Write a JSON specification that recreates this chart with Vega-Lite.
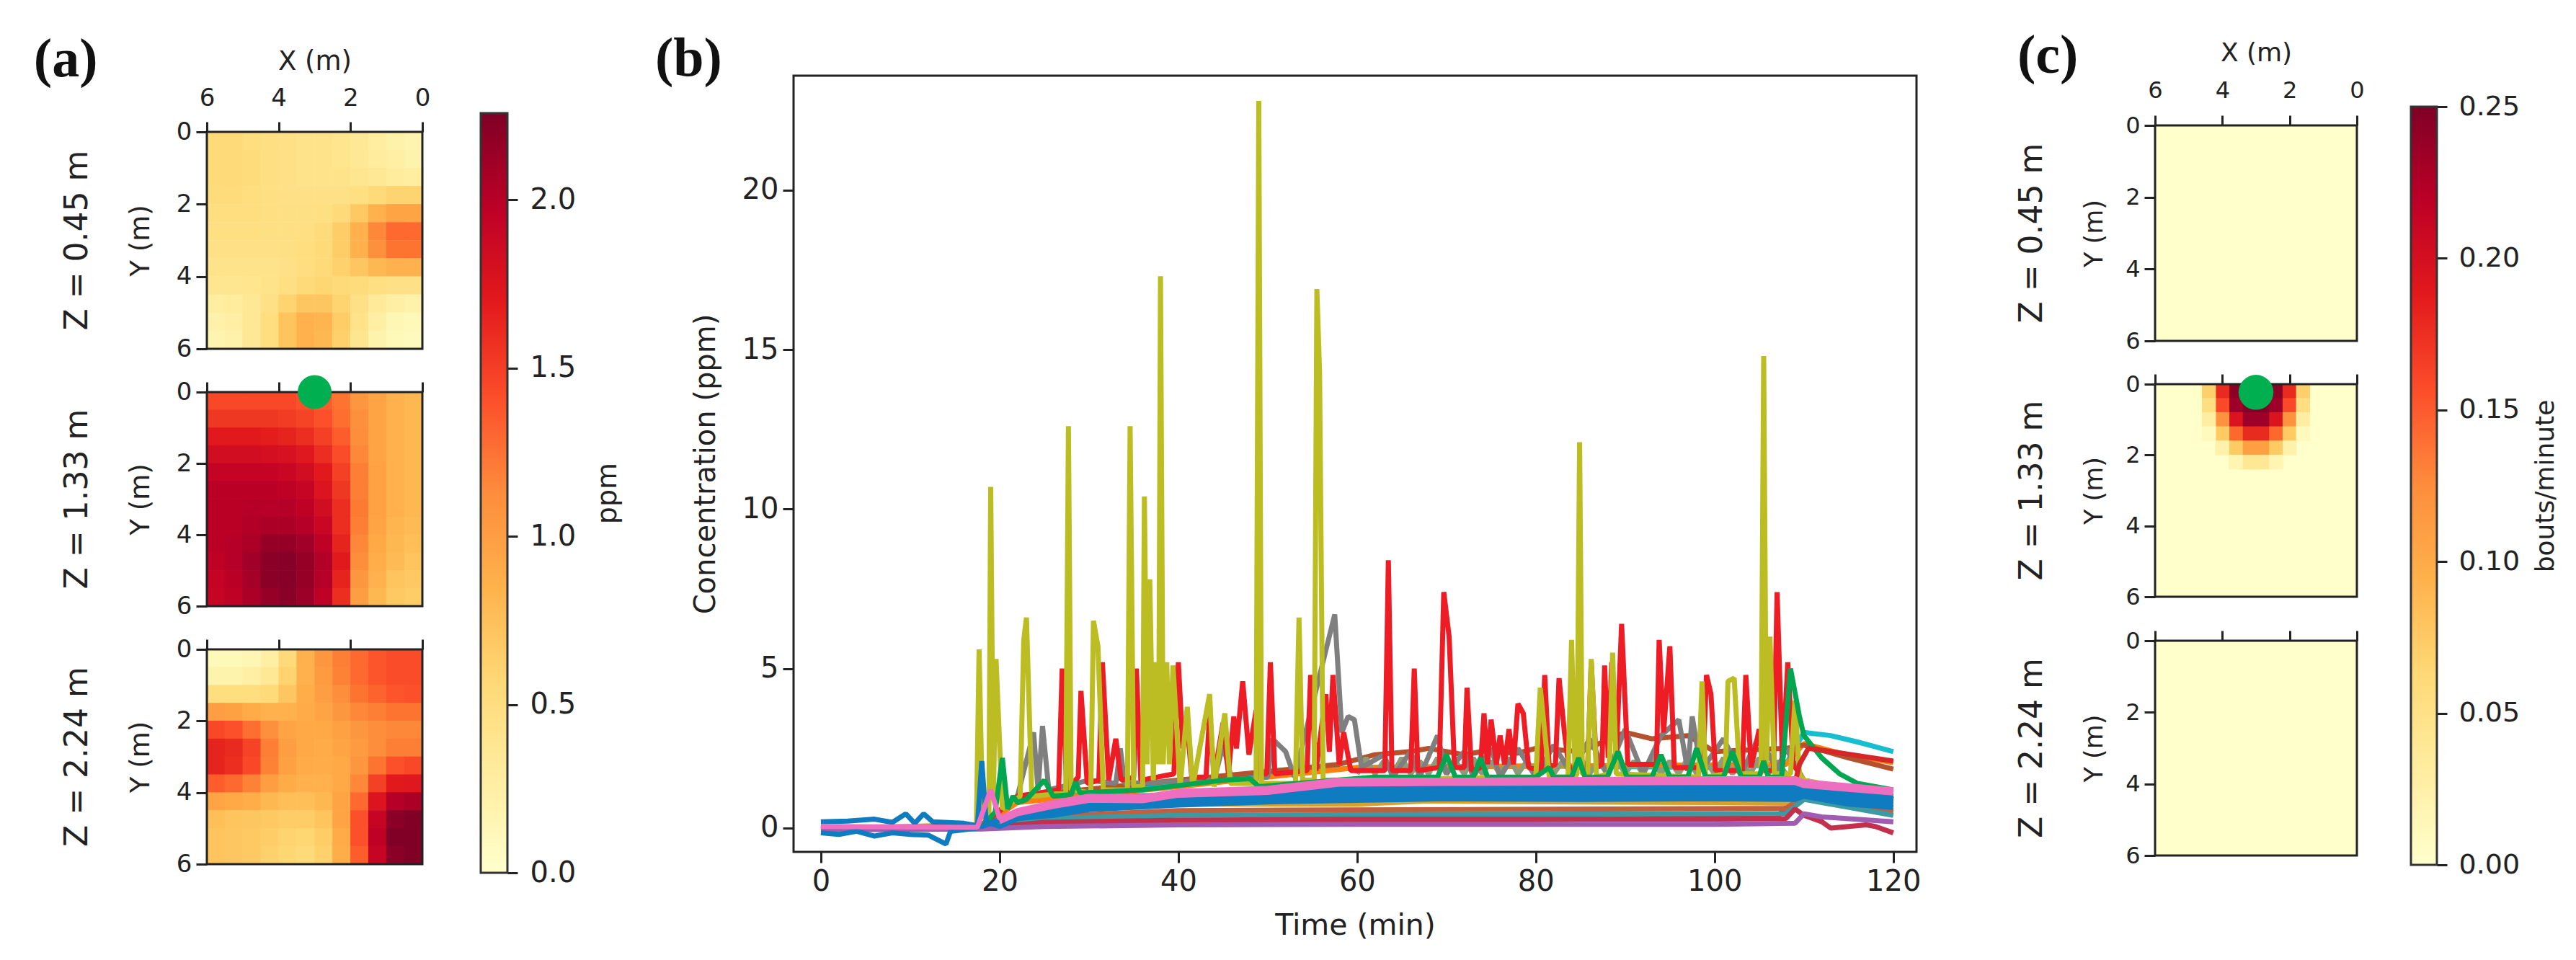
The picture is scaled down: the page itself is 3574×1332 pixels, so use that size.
{"$schema":"https://vega.github.io/schema/vega-lite/v6.json","width":3574,"height":1332,"padding":0,"autosize":{"type":"fit","contains":"padding"},"background":"white","config":{"view":{"stroke":null},"axis":{"grid":false,"labelFont":"DejaVu Sans","titleFont":"DejaVu Sans","labelColor":"#222","titleColor":"#222","tickColor":"#222","tickWidth":3,"domain":false,"titleFontWeight":"normal","labelOverlap":false,"labelBound":false,"labelFlush":false}},"resolve":{"scale":{"x":"independent","y":"independent","color":"independent"},"axis":{"x":"independent","y":"independent"}},"layer":[
{"layer":[
{"mark":{"type":"rect","width":25.5,"height":25.5},"data":{"values":[
{"x":5.75,"y":0.25,"v":0.55},{"x":5.25,"y":0.25,"v":0.55},{"x":4.75,"y":0.25,"v":0.5},{"x":4.25,"y":0.25,"v":0.48},{"x":3.75,"y":0.25,"v":0.45},{"x":3.25,"y":0.25,"v":0.42},{"x":2.75,"y":0.25,"v":0.42},{"x":2.25,"y":0.25,"v":0.4},{"x":1.75,"y":0.25,"v":0.35},{"x":1.25,"y":0.25,"v":0.28},{"x":0.75,"y":0.25,"v":0.22},{"x":0.25,"y":0.25,"v":0.18},
{"x":5.75,"y":0.75,"v":0.55},{"x":5.25,"y":0.75,"v":0.55},{"x":4.75,"y":0.75,"v":0.52},{"x":4.25,"y":0.75,"v":0.48},{"x":3.75,"y":0.75,"v":0.45},{"x":3.25,"y":0.75,"v":0.42},{"x":2.75,"y":0.75,"v":0.42},{"x":2.25,"y":0.75,"v":0.4},{"x":1.75,"y":0.75,"v":0.35},{"x":1.25,"y":0.75,"v":0.3},{"x":0.75,"y":0.75,"v":0.25},{"x":0.25,"y":0.75,"v":0.2},
{"x":5.75,"y":1.25,"v":0.55},{"x":5.25,"y":1.25,"v":0.55},{"x":4.75,"y":1.25,"v":0.52},{"x":4.25,"y":1.25,"v":0.48},{"x":3.75,"y":1.25,"v":0.45},{"x":3.25,"y":1.25,"v":0.42},{"x":2.75,"y":1.25,"v":0.42},{"x":2.25,"y":1.25,"v":0.42},{"x":1.75,"y":1.25,"v":0.38},{"x":1.25,"y":1.25,"v":0.35},{"x":0.75,"y":1.25,"v":0.3},{"x":0.25,"y":1.25,"v":0.28},
{"x":5.75,"y":1.75,"v":0.52},{"x":5.25,"y":1.75,"v":0.52},{"x":4.75,"y":1.75,"v":0.5},{"x":4.25,"y":1.75,"v":0.48},{"x":3.75,"y":1.75,"v":0.45},{"x":3.25,"y":1.75,"v":0.45},{"x":2.75,"y":1.75,"v":0.45},{"x":2.25,"y":1.75,"v":0.45},{"x":1.75,"y":1.75,"v":0.48},{"x":1.25,"y":1.75,"v":0.55},{"x":0.75,"y":1.75,"v":0.6},{"x":0.25,"y":1.75,"v":0.6},
{"x":5.75,"y":2.25,"v":0.5},{"x":5.25,"y":2.25,"v":0.5},{"x":4.75,"y":2.25,"v":0.5},{"x":4.25,"y":2.25,"v":0.48},{"x":3.75,"y":2.25,"v":0.47},{"x":3.25,"y":2.25,"v":0.47},{"x":2.75,"y":2.25,"v":0.48},{"x":2.25,"y":2.25,"v":0.55},{"x":1.75,"y":2.25,"v":0.68},{"x":1.25,"y":2.25,"v":0.85},{"x":0.75,"y":2.25,"v":0.95},{"x":0.25,"y":2.25,"v":0.95},
{"x":5.75,"y":2.75,"v":0.48},{"x":5.25,"y":2.75,"v":0.48},{"x":4.75,"y":2.75,"v":0.48},{"x":4.25,"y":2.75,"v":0.47},{"x":3.75,"y":2.75,"v":0.47},{"x":3.25,"y":2.75,"v":0.48},{"x":2.75,"y":2.75,"v":0.52},{"x":2.25,"y":2.75,"v":0.65},{"x":1.75,"y":2.75,"v":0.85},{"x":1.25,"y":2.75,"v":1.15},{"x":0.75,"y":2.75,"v":1.3},{"x":0.25,"y":2.75,"v":1.3},
{"x":5.75,"y":3.25,"v":0.45},{"x":5.25,"y":3.25,"v":0.45},{"x":4.75,"y":3.25,"v":0.45},{"x":4.25,"y":3.25,"v":0.45},{"x":3.75,"y":3.25,"v":0.47},{"x":3.25,"y":3.25,"v":0.5},{"x":2.75,"y":3.25,"v":0.55},{"x":2.25,"y":3.25,"v":0.65},{"x":1.75,"y":3.25,"v":0.85},{"x":1.25,"y":3.25,"v":1.1},{"x":0.75,"y":3.25,"v":1.25},{"x":0.25,"y":3.25,"v":1.25},
{"x":5.75,"y":3.75,"v":0.42},{"x":5.25,"y":3.75,"v":0.42},{"x":4.75,"y":3.75,"v":0.42},{"x":4.25,"y":3.75,"v":0.42},{"x":3.75,"y":3.75,"v":0.45},{"x":3.25,"y":3.75,"v":0.5},{"x":2.75,"y":3.75,"v":0.55},{"x":2.25,"y":3.75,"v":0.62},{"x":1.75,"y":3.75,"v":0.7},{"x":1.25,"y":3.75,"v":0.8},{"x":0.75,"y":3.75,"v":0.85},{"x":0.25,"y":3.75,"v":0.85},
{"x":5.75,"y":4.25,"v":0.38},{"x":5.25,"y":4.25,"v":0.38},{"x":4.75,"y":4.25,"v":0.4},{"x":4.25,"y":4.25,"v":0.42},{"x":3.75,"y":4.25,"v":0.48},{"x":3.25,"y":4.25,"v":0.55},{"x":2.75,"y":4.25,"v":0.58},{"x":2.25,"y":4.25,"v":0.55},{"x":1.75,"y":4.25,"v":0.52},{"x":1.25,"y":4.25,"v":0.48},{"x":0.75,"y":4.25,"v":0.45},{"x":0.25,"y":4.25,"v":0.45},
{"x":5.75,"y":4.75,"v":0.28},{"x":5.25,"y":4.75,"v":0.3},{"x":4.75,"y":4.75,"v":0.35},{"x":4.25,"y":4.75,"v":0.45},{"x":3.75,"y":4.75,"v":0.6},{"x":3.25,"y":4.75,"v":0.7},{"x":2.75,"y":4.75,"v":0.7},{"x":2.25,"y":4.75,"v":0.6},{"x":1.75,"y":4.75,"v":0.45},{"x":1.25,"y":4.75,"v":0.32},{"x":0.75,"y":4.75,"v":0.25},{"x":0.25,"y":4.75,"v":0.22},
{"x":5.75,"y":5.25,"v":0.22},{"x":5.25,"y":5.25,"v":0.25},{"x":4.75,"y":5.25,"v":0.35},{"x":4.25,"y":5.25,"v":0.5},{"x":3.75,"y":5.25,"v":0.72},{"x":3.25,"y":5.25,"v":0.85},{"x":2.75,"y":5.25,"v":0.82},{"x":2.25,"y":5.25,"v":0.65},{"x":1.75,"y":5.25,"v":0.42},{"x":1.25,"y":5.25,"v":0.25},{"x":0.75,"y":5.25,"v":0.15},{"x":0.25,"y":5.25,"v":0.12},
{"x":5.75,"y":5.75,"v":0.18},{"x":5.25,"y":5.75,"v":0.22},{"x":4.75,"y":5.75,"v":0.35},{"x":4.25,"y":5.75,"v":0.5},{"x":3.75,"y":5.75,"v":0.72},{"x":3.25,"y":5.75,"v":0.85},{"x":2.75,"y":5.75,"v":0.8},{"x":2.25,"y":5.75,"v":0.62},{"x":1.75,"y":5.75,"v":0.38},{"x":1.25,"y":5.75,"v":0.2},{"x":0.75,"y":5.75,"v":0.12},{"x":0.25,"y":5.75,"v":0.1}
]},"encoding":{"x":{"field":"x","type":"quantitative","axis":null,"scale":{"domain":[6,0],"range":[287,586],"nice":false,"zero":false}},"y":{"field":"y","type":"quantitative","axis":null,"scale":{"domain":[0,6],"range":[183,484],"nice":false,"zero":false}},"color":{"field":"v","type":"quantitative","legend":null,"scale":{"domain":[0,0.28125,0.5625,0.84375,1.125,1.40625,1.6875,1.96875,2.25],"range":["#ffffcc","#ffeda0","#fed976","#feb24c","#fd8d3c","#fc4e2a","#e31a1c","#bd0026","#800026"]}}}},
{"mark":{"type":"text","font":"DejaVu Sans","fontSize":44,"angle":270,"color":"#222"},"data":{"values":[{"x":9.59,"y":3,"t":"Z = 0.45 m"}]},"encoding":{"x":{"field":"x","type":"quantitative","axis":null},"y":{"field":"y","type":"quantitative","axis":null},"text":{"field":"t"}}},
{"mark":{"type":"text","font":"Liberation Serif","fontWeight":"bold","fontSize":76,"color":"#111"},"data":{"values":[{"x":9.93,"y":-1.99,"t":"(a)"}]},"encoding":{"x":{"field":"x","type":"quantitative","axis":null},"y":{"field":"y","type":"quantitative","axis":null},"text":{"field":"t"}}}
]},
{"mark":{"type":"rect","filled":false,"stroke":"#222","strokeWidth":3},"data":{"values":[{"a":6,"b":0,"c":0,"d":6}]},"encoding":{"x":{"field":"a","type":"quantitative","scale":{"domain":[6,0],"range":[287,586],"nice":false,"zero":false},"axis":{"orient":"top","offset":-183,"values":[6,4,2,0],"tickSize":14,"labelFontSize":34,"labelPadding":16,"labelAngle":0,"title":"X (m)","titleFontSize":37,"titlePadding":15}},"x2":{"field":"b"},"y":{"field":"c","type":"quantitative","scale":{"domain":[0,6],"range":[183,484],"nice":false,"zero":false},"axis":{"orient":"left","offset":-287,"values":[0,2,4,6],"tickSize":15,"labelFontSize":34,"labelPadding":6,"title":"Y (m)","titleFontSize":37,"titlePadding":30}},"y2":{"field":"d"}}},
{"layer":[
{"mark":{"type":"rect","width":25.5,"height":25.5},"data":{"values":[
{"x":5.75,"y":0.25,"v":1.45},{"x":5.25,"y":0.25,"v":1.45},{"x":4.75,"y":0.25,"v":1.45},{"x":4.25,"y":0.25,"v":1.45},{"x":3.75,"y":0.25,"v":1.45},{"x":3.25,"y":0.25,"v":1.4},{"x":2.75,"y":0.25,"v":1.35},{"x":2.25,"y":0.25,"v":1.25},{"x":1.75,"y":0.25,"v":1.05},{"x":1.25,"y":0.25,"v":0.95},{"x":0.75,"y":0.25,"v":0.85},{"x":0.25,"y":0.25,"v":0.8},
{"x":5.75,"y":0.75,"v":1.55},{"x":5.25,"y":0.75,"v":1.55},{"x":4.75,"y":0.75,"v":1.55},{"x":4.25,"y":0.75,"v":1.55},{"x":3.75,"y":0.75,"v":1.52},{"x":3.25,"y":0.75,"v":1.48},{"x":2.75,"y":0.75,"v":1.4},{"x":2.25,"y":0.75,"v":1.28},{"x":1.75,"y":0.75,"v":1.1},{"x":1.25,"y":0.75,"v":0.95},{"x":0.75,"y":0.75,"v":0.85},{"x":0.25,"y":0.75,"v":0.8},
{"x":5.75,"y":1.25,"v":1.7},{"x":5.25,"y":1.25,"v":1.7},{"x":4.75,"y":1.25,"v":1.7},{"x":4.25,"y":1.25,"v":1.68},{"x":3.75,"y":1.25,"v":1.65},{"x":3.25,"y":1.25,"v":1.6},{"x":2.75,"y":1.25,"v":1.5},{"x":2.25,"y":1.25,"v":1.35},{"x":1.75,"y":1.25,"v":1.12},{"x":1.25,"y":1.25,"v":0.95},{"x":0.75,"y":1.25,"v":0.85},{"x":0.25,"y":1.25,"v":0.8},
{"x":5.75,"y":1.75,"v":1.82},{"x":5.25,"y":1.75,"v":1.82},{"x":4.75,"y":1.75,"v":1.82},{"x":4.25,"y":1.75,"v":1.8},{"x":3.75,"y":1.75,"v":1.78},{"x":3.25,"y":1.75,"v":1.72},{"x":2.75,"y":1.75,"v":1.6},{"x":2.25,"y":1.75,"v":1.42},{"x":1.75,"y":1.75,"v":1.15},{"x":1.25,"y":1.75,"v":0.95},{"x":0.75,"y":1.75,"v":0.85},{"x":0.25,"y":1.75,"v":0.8},
{"x":5.75,"y":2.25,"v":1.92},{"x":5.25,"y":2.25,"v":1.92},{"x":4.75,"y":2.25,"v":1.92},{"x":4.25,"y":2.25,"v":1.92},{"x":3.75,"y":2.25,"v":1.88},{"x":3.25,"y":2.25,"v":1.82},{"x":2.75,"y":2.25,"v":1.7},{"x":2.25,"y":2.25,"v":1.5},{"x":1.75,"y":2.25,"v":1.2},{"x":1.25,"y":2.25,"v":0.97},{"x":0.75,"y":2.25,"v":0.85},{"x":0.25,"y":2.25,"v":0.8},
{"x":5.75,"y":2.75,"v":1.98},{"x":5.25,"y":2.75,"v":1.98},{"x":4.75,"y":2.75,"v":1.98},{"x":4.25,"y":2.75,"v":1.98},{"x":3.75,"y":2.75,"v":1.95},{"x":3.25,"y":2.75,"v":1.9},{"x":2.75,"y":2.75,"v":1.75},{"x":2.25,"y":2.75,"v":1.55},{"x":1.75,"y":2.75,"v":1.2},{"x":1.25,"y":2.75,"v":0.97},{"x":0.75,"y":2.75,"v":0.85},{"x":0.25,"y":2.75,"v":0.8},
{"x":5.75,"y":3.25,"v":1.98},{"x":5.25,"y":3.25,"v":1.98},{"x":4.75,"y":3.25,"v":2.0},{"x":4.25,"y":3.25,"v":2.0},{"x":3.75,"y":3.25,"v":2.0},{"x":3.25,"y":3.25,"v":1.95},{"x":2.75,"y":3.25,"v":1.82},{"x":2.25,"y":3.25,"v":1.6},{"x":1.75,"y":3.25,"v":1.22},{"x":1.25,"y":3.25,"v":0.97},{"x":0.75,"y":3.25,"v":0.85},{"x":0.25,"y":3.25,"v":0.8},
{"x":5.75,"y":3.75,"v":1.98},{"x":5.25,"y":3.75,"v":1.98},{"x":4.75,"y":3.75,"v":2.02},{"x":4.25,"y":3.75,"v":2.05},{"x":3.75,"y":3.75,"v":2.05},{"x":3.25,"y":3.75,"v":2.0},{"x":2.75,"y":3.75,"v":1.88},{"x":2.25,"y":3.75,"v":1.6},{"x":1.75,"y":3.75,"v":1.2},{"x":1.25,"y":3.75,"v":0.95},{"x":0.75,"y":3.75,"v":0.82},{"x":0.25,"y":3.75,"v":0.78},
{"x":5.75,"y":4.25,"v":1.98},{"x":5.25,"y":4.25,"v":2.0},{"x":4.75,"y":4.25,"v":2.05},{"x":4.25,"y":4.25,"v":2.15},{"x":3.75,"y":4.25,"v":2.15},{"x":3.25,"y":4.25,"v":2.1},{"x":2.75,"y":4.25,"v":1.95},{"x":2.25,"y":4.25,"v":1.65},{"x":1.75,"y":4.25,"v":1.15},{"x":1.25,"y":4.25,"v":0.92},{"x":0.75,"y":4.25,"v":0.8},{"x":0.25,"y":4.25,"v":0.75},
{"x":5.75,"y":4.75,"v":1.95},{"x":5.25,"y":4.75,"v":2.0},{"x":4.75,"y":4.75,"v":2.1},{"x":4.25,"y":4.75,"v":2.2},{"x":3.75,"y":4.75,"v":2.22},{"x":3.25,"y":4.75,"v":2.15},{"x":2.75,"y":4.75,"v":2.02},{"x":2.25,"y":4.75,"v":1.7},{"x":1.75,"y":4.75,"v":1.12},{"x":1.25,"y":4.75,"v":0.88},{"x":0.75,"y":4.75,"v":0.78},{"x":0.25,"y":4.75,"v":0.72},
{"x":5.75,"y":5.25,"v":1.92},{"x":5.25,"y":5.25,"v":1.98},{"x":4.75,"y":5.25,"v":2.08},{"x":4.25,"y":5.25,"v":2.2},{"x":3.75,"y":5.25,"v":2.22},{"x":3.25,"y":5.25,"v":2.15},{"x":2.75,"y":5.25,"v":2.0},{"x":2.25,"y":5.25,"v":1.65},{"x":1.75,"y":5.25,"v":1.05},{"x":1.25,"y":5.25,"v":0.85},{"x":0.75,"y":5.25,"v":0.72},{"x":0.25,"y":5.25,"v":0.68},
{"x":5.75,"y":5.75,"v":1.9},{"x":5.25,"y":5.75,"v":1.95},{"x":4.75,"y":5.75,"v":2.05},{"x":4.25,"y":5.75,"v":2.15},{"x":3.75,"y":5.75,"v":2.2},{"x":3.25,"y":5.75,"v":2.12},{"x":2.75,"y":5.75,"v":1.95},{"x":2.25,"y":5.75,"v":1.6},{"x":1.75,"y":5.75,"v":1.0},{"x":1.25,"y":5.75,"v":0.8},{"x":0.75,"y":5.75,"v":0.68},{"x":0.25,"y":5.75,"v":0.65}
]},"encoding":{"x":{"field":"x","type":"quantitative","axis":null,"scale":{"domain":[6,0],"range":[287,586],"nice":false,"zero":false}},"y":{"field":"y","type":"quantitative","axis":null,"scale":{"domain":[0,6],"range":[544,841],"nice":false,"zero":false}},"color":{"field":"v","type":"quantitative","legend":null,"scale":{"domain":[0,0.28125,0.5625,0.84375,1.125,1.40625,1.6875,1.96875,2.25],"range":["#ffffcc","#ffeda0","#fed976","#feb24c","#fd8d3c","#fc4e2a","#e31a1c","#bd0026","#800026"]}}}},
{"mark":{"type":"text","font":"DejaVu Sans","fontSize":44,"angle":270,"color":"#222"},"data":{"values":[{"x":9.59,"y":3,"t":"Z = 1.33 m"}]},"encoding":{"x":{"field":"x","type":"quantitative","axis":null},"y":{"field":"y","type":"quantitative","axis":null},"text":{"field":"t"}}}
]},
{"mark":{"type":"rect","filled":false,"stroke":"#222","strokeWidth":3},"data":{"values":[{"a":6,"b":0,"c":0,"d":6}]},"encoding":{"x":{"field":"a","type":"quantitative","scale":{"domain":[6,0],"range":[287,586],"nice":false,"zero":false},"axis":{"orient":"top","offset":-544,"values":[6,4,2,0],"tickSize":14,"labels":false,"title":null}},"x2":{"field":"b"},"y":{"field":"c","type":"quantitative","scale":{"domain":[0,6],"range":[544,841],"nice":false,"zero":false},"axis":{"orient":"left","offset":-287,"values":[0,2,4,6],"tickSize":15,"labelFontSize":34,"labelPadding":6,"title":"Y (m)","titleFontSize":37,"titlePadding":30}},"y2":{"field":"d"}}},
{"mark":{"type":"point","filled":true,"color":"#00b050","opacity":1,"size":2209},"data":{"values":[{"x":3,"y":0}]},"encoding":{"x":{"field":"x","type":"quantitative","axis":null,"scale":{"domain":[6,0],"range":[287,586],"nice":false,"zero":false}},"y":{"field":"y","type":"quantitative","axis":null,"scale":{"domain":[0,6],"range":[544,841],"nice":false,"zero":false}}}},
{"layer":[
{"mark":{"type":"rect","width":25.5,"height":25.5},"data":{"values":[
{"x":5.75,"y":0.25,"v":0.12},{"x":5.25,"y":0.25,"v":0.12},{"x":4.75,"y":0.25,"v":0.15},{"x":4.25,"y":0.25,"v":0.25},{"x":3.75,"y":0.25,"v":0.55},{"x":3.25,"y":0.25,"v":0.85},{"x":2.75,"y":0.25,"v":1.05},{"x":2.25,"y":0.25,"v":1.2},{"x":1.75,"y":0.25,"v":1.3},{"x":1.25,"y":0.25,"v":1.38},{"x":0.75,"y":0.25,"v":1.42},{"x":0.25,"y":0.25,"v":1.42},
{"x":5.75,"y":0.75,"v":0.2},{"x":5.25,"y":0.75,"v":0.2},{"x":4.75,"y":0.75,"v":0.25},{"x":4.25,"y":0.75,"v":0.35},{"x":3.75,"y":0.75,"v":0.6},{"x":3.25,"y":0.75,"v":0.85},{"x":2.75,"y":0.75,"v":1.02},{"x":2.25,"y":0.75,"v":1.18},{"x":1.75,"y":0.75,"v":1.3},{"x":1.25,"y":0.75,"v":1.38},{"x":0.75,"y":0.75,"v":1.42},{"x":0.25,"y":0.75,"v":1.42},
{"x":5.75,"y":1.25,"v":0.5},{"x":5.25,"y":1.25,"v":0.5},{"x":4.75,"y":1.25,"v":0.5},{"x":4.25,"y":1.25,"v":0.55},{"x":3.75,"y":1.25,"v":0.7},{"x":3.25,"y":1.25,"v":0.88},{"x":2.75,"y":1.25,"v":1.0},{"x":2.25,"y":1.25,"v":1.12},{"x":1.75,"y":1.25,"v":1.25},{"x":1.25,"y":1.25,"v":1.32},{"x":0.75,"y":1.25,"v":1.38},{"x":0.25,"y":1.25,"v":1.4},
{"x":5.75,"y":1.75,"v":1.0},{"x":5.25,"y":1.75,"v":0.98},{"x":4.75,"y":1.75,"v":0.9},{"x":4.25,"y":1.75,"v":0.85},{"x":3.75,"y":1.75,"v":0.85},{"x":3.25,"y":1.75,"v":0.9},{"x":2.75,"y":1.75,"v":0.95},{"x":2.25,"y":1.75,"v":1.05},{"x":1.75,"y":1.75,"v":1.15},{"x":1.25,"y":1.75,"v":1.2},{"x":0.75,"y":1.75,"v":1.25},{"x":0.25,"y":1.75,"v":1.25},
{"x":5.75,"y":2.25,"v":1.45},{"x":5.25,"y":2.25,"v":1.4},{"x":4.75,"y":2.25,"v":1.28},{"x":4.25,"y":2.25,"v":1.1},{"x":3.75,"y":2.25,"v":0.95},{"x":3.25,"y":2.25,"v":0.92},{"x":2.75,"y":2.25,"v":0.92},{"x":2.25,"y":2.25,"v":0.98},{"x":1.75,"y":2.25,"v":1.05},{"x":1.25,"y":2.25,"v":1.12},{"x":0.75,"y":2.25,"v":1.15},{"x":0.25,"y":2.25,"v":1.15},
{"x":5.75,"y":2.75,"v":1.65},{"x":5.25,"y":2.75,"v":1.62},{"x":4.75,"y":2.75,"v":1.48},{"x":4.25,"y":2.75,"v":1.2},{"x":3.75,"y":2.75,"v":1.0},{"x":3.25,"y":2.75,"v":0.92},{"x":2.75,"y":2.75,"v":0.9},{"x":2.25,"y":2.75,"v":0.95},{"x":1.75,"y":2.75,"v":1.02},{"x":1.25,"y":2.75,"v":1.12},{"x":0.75,"y":2.75,"v":1.2},{"x":0.25,"y":2.75,"v":1.2},
{"x":5.75,"y":3.25,"v":1.65},{"x":5.25,"y":3.25,"v":1.6},{"x":4.75,"y":3.25,"v":1.45},{"x":4.25,"y":3.25,"v":1.18},{"x":3.75,"y":3.25,"v":0.98},{"x":3.25,"y":3.25,"v":0.9},{"x":2.75,"y":3.25,"v":0.88},{"x":2.25,"y":3.25,"v":0.92},{"x":1.75,"y":3.25,"v":1.05},{"x":1.25,"y":3.25,"v":1.25},{"x":0.75,"y":3.25,"v":1.4},{"x":0.25,"y":3.25,"v":1.45},
{"x":5.75,"y":3.75,"v":1.35},{"x":5.25,"y":3.75,"v":1.3},{"x":4.75,"y":3.75,"v":1.18},{"x":4.25,"y":3.75,"v":1.0},{"x":3.75,"y":3.75,"v":0.9},{"x":3.25,"y":3.75,"v":0.85},{"x":2.75,"y":3.75,"v":0.85},{"x":2.25,"y":3.75,"v":0.92},{"x":1.75,"y":3.75,"v":1.15},{"x":1.25,"y":3.75,"v":1.5},{"x":0.75,"y":3.75,"v":1.7},{"x":0.25,"y":3.75,"v":1.72},
{"x":5.75,"y":4.25,"v":0.95},{"x":5.25,"y":4.25,"v":0.92},{"x":4.75,"y":4.25,"v":0.88},{"x":4.25,"y":4.25,"v":0.8},{"x":3.75,"y":4.25,"v":0.75},{"x":3.25,"y":4.25,"v":0.75},{"x":2.75,"y":4.25,"v":0.8},{"x":2.25,"y":4.25,"v":0.95},{"x":1.75,"y":4.25,"v":1.3},{"x":1.25,"y":4.25,"v":1.75},{"x":0.75,"y":4.25,"v":2.0},{"x":0.25,"y":4.25,"v":2.05},
{"x":5.75,"y":4.75,"v":0.75},{"x":5.25,"y":4.75,"v":0.72},{"x":4.75,"y":4.75,"v":0.7},{"x":4.25,"y":4.75,"v":0.68},{"x":3.75,"y":4.75,"v":0.65},{"x":3.25,"y":4.75,"v":0.65},{"x":2.75,"y":4.75,"v":0.72},{"x":2.25,"y":4.75,"v":0.95},{"x":1.75,"y":4.75,"v":1.4},{"x":1.25,"y":4.75,"v":1.9},{"x":0.75,"y":4.75,"v":2.2},{"x":0.25,"y":4.75,"v":2.25},
{"x":5.75,"y":5.25,"v":0.72},{"x":5.25,"y":5.25,"v":0.7},{"x":4.75,"y":5.25,"v":0.68},{"x":4.25,"y":5.25,"v":0.65},{"x":3.75,"y":5.25,"v":0.6},{"x":3.25,"y":5.25,"v":0.58},{"x":2.75,"y":5.25,"v":0.65},{"x":2.25,"y":5.25,"v":0.9},{"x":1.75,"y":5.25,"v":1.4},{"x":1.25,"y":5.25,"v":1.95},{"x":0.75,"y":5.25,"v":2.25},{"x":0.25,"y":5.25,"v":2.25},
{"x":5.75,"y":5.75,"v":0.72},{"x":5.25,"y":5.75,"v":0.7},{"x":4.75,"y":5.75,"v":0.68},{"x":4.25,"y":5.75,"v":0.62},{"x":3.75,"y":5.75,"v":0.58},{"x":3.25,"y":5.75,"v":0.55},{"x":2.75,"y":5.75,"v":0.62},{"x":2.25,"y":5.75,"v":0.88},{"x":1.75,"y":5.75,"v":1.35},{"x":1.25,"y":5.75,"v":1.9},{"x":0.75,"y":5.75,"v":2.2},{"x":0.25,"y":5.75,"v":2.25}
]},"encoding":{"x":{"field":"x","type":"quantitative","axis":null,"scale":{"domain":[6,0],"range":[287,586],"nice":false,"zero":false}},"y":{"field":"y","type":"quantitative","axis":null,"scale":{"domain":[0,6],"range":[901,1199],"nice":false,"zero":false}},"color":{"field":"v","type":"quantitative","legend":null,"scale":{"domain":[0,0.28125,0.5625,0.84375,1.125,1.40625,1.6875,1.96875,2.25],"range":["#ffffcc","#ffeda0","#fed976","#feb24c","#fd8d3c","#fc4e2a","#e31a1c","#bd0026","#800026"]}}}},
{"mark":{"type":"text","font":"DejaVu Sans","fontSize":44,"angle":270,"color":"#222"},"data":{"values":[{"x":9.59,"y":3,"t":"Z = 2.24 m"}]},"encoding":{"x":{"field":"x","type":"quantitative","axis":null},"y":{"field":"y","type":"quantitative","axis":null},"text":{"field":"t"}}}
]},
{"mark":{"type":"rect","filled":false,"stroke":"#222","strokeWidth":3},"data":{"values":[{"a":6,"b":0,"c":0,"d":6}]},"encoding":{"x":{"field":"a","type":"quantitative","scale":{"domain":[6,0],"range":[287,586],"nice":false,"zero":false},"axis":{"orient":"top","offset":-901,"values":[6,4,2,0],"tickSize":14,"labels":false,"title":null}},"x2":{"field":"b"},"y":{"field":"c","type":"quantitative","scale":{"domain":[0,6],"range":[901,1199],"nice":false,"zero":false},"axis":{"orient":"left","offset":-287,"values":[0,2,4,6],"tickSize":15,"labelFontSize":34,"labelPadding":6,"title":"Y (m)","titleFontSize":37,"titlePadding":30}},"y2":{"field":"d"}}},
{"mark":{"type":"rect","stroke":"#333","strokeWidth":3,"color":{"gradient":"linear","x1":0,"y1":1,"x2":0,"y2":0,"stops":[{"offset":0,"color":"#ffffcc"},{"offset":0.125,"color":"#ffeda0"},{"offset":0.25,"color":"#fed976"},{"offset":0.375,"color":"#feb24c"},{"offset":0.5,"color":"#fd8d3c"},{"offset":0.625,"color":"#fc4e2a"},{"offset":0.75,"color":"#e31a1c"},{"offset":0.875,"color":"#bd0026"},{"offset":1,"color":"#800026"}]}},"data":{"values":[{"a":0,"b":1,"lo":0,"hi":2.257}]},"encoding":{"x":{"field":"a","type":"quantitative","axis":null,"scale":{"domain":[0,1],"range":[667,704],"nice":false,"zero":false}},"x2":{"field":"b"},"y":{"field":"lo","type":"quantitative","scale":{"domain":[0,2.257],"range":[1211,157],"nice":false,"zero":false},"axis":{"orient":"right","offset":-2870,"values":[0,0.5,1,1.5,2],"format":".1f","tickSize":14,"labelFontSize":40,"labelPadding":17,"title":"ppm","titleFontSize":38,"titleAngle":270,"titlePadding":64}},"y2":{"field":"hi"}}},
{"layer":[
{"mark":{"type":"line","strokeWidth":7,"strokeJoin":"bevel","clip":false},"data":{"values":[
{"s":"C","t":18,"c":0.05},{"s":"C","t":22,"c":0.9},{"s":"C","t":40,"c":1.4},{"s":"C","t":60,"c":1.9},{"s":"C","t":80,"c":1.95},{"s":"C","t":100,"c":1.9},{"s":"C","t":108,"c":2.0},{"s":"C","t":110,"c":3.0},{"s":"C","t":113,"c":2.9},{"s":"C","t":116,"c":2.7},{"s":"C","t":118,"c":2.55},{"s":"C","t":120,"c":2.4},
{"s":"O","t":18,"c":0.05},{"s":"O","t":22,"c":0.8},{"s":"O","t":40,"c":1.3},{"s":"O","t":60,"c":1.9},{"s":"O","t":108,"c":2.0},{"s":"O","t":110,"c":2.65},{"s":"O","t":114,"c":2.35},{"s":"O","t":120,"c":2.05},
{"s":"N","t":18,"c":0.05},{"s":"N","t":22,"c":1.0},{"s":"N","t":40,"c":1.5},{"s":"N","t":58,"c":2.0},{"s":"N","t":62,"c":2.3},{"s":"N","t":66,"c":2.4},{"s":"N","t":68,"c":2.5},{"s":"N","t":72,"c":2.3},{"s":"N","t":74,"c":2.4},{"s":"N","t":78,"c":2.35},{"s":"N","t":80,"c":2.5},{"s":"N","t":85,"c":2.4},{"s":"N","t":90,"c":3.0},{"s":"N","t":93,"c":2.8},{"s":"N","t":97,"c":2.9},{"s":"N","t":100,"c":2.4},{"s":"N","t":108,"c":2.5},{"s":"N","t":110,"c":2.6},{"s":"N","t":115,"c":2.2},{"s":"N","t":120,"c":1.85},
{"s":"I","t":60,"c":1.7},{"s":"I","t":61,"c":2.2},{"s":"I","t":62,"c":1.7},{"s":"I","t":63,"c":2.1},{"s":"I","t":64,"c":1.7},{"s":"I","t":65,"c":2.2},{"s":"I","t":66,"c":1.7},{"s":"I","t":67,"c":2.1},{"s":"I","t":68,"c":1.7},{"s":"I","t":69,"c":2.2},{"s":"I","t":70,"c":1.7},{"s":"I","t":71,"c":2.1},{"s":"I","t":72,"c":1.7},{"s":"I","t":73,"c":2.2},{"s":"I","t":74,"c":1.7},{"s":"I","t":75,"c":2.1},{"s":"I","t":76,"c":1.7},{"s":"I","t":77,"c":2.2},{"s":"I","t":78,"c":1.7},{"s":"I","t":79,"c":2.1},{"s":"I","t":80,"c":1.7},{"s":"I","t":81,"c":2.2},{"s":"I","t":82,"c":1.7},{"s":"I","t":83,"c":2.1},{"s":"I","t":84,"c":1.7},{"s":"I","t":85,"c":2.2},{"s":"I","t":86,"c":1.7},{"s":"I","t":87,"c":2.1},{"s":"I","t":88,"c":1.7},{"s":"I","t":89,"c":2.2},{"s":"I","t":90,"c":1.7},{"s":"I","t":91,"c":2.1},{"s":"I","t":92,"c":1.7},{"s":"I","t":93,"c":2.2},{"s":"I","t":94,"c":1.7},{"s":"I","t":95,"c":2.1},{"s":"I","t":96,"c":1.7},{"s":"I","t":97,"c":2.2},{"s":"I","t":98,"c":1.7},{"s":"I","t":99,"c":2.1},{"s":"I","t":100,"c":1.7},{"s":"I","t":101,"c":2.2},{"s":"I","t":102,"c":1.7},{"s":"I","t":103,"c":2.1},{"s":"I","t":104,"c":1.7},{"s":"I","t":105,"c":2.2},{"s":"I","t":106,"c":1.7},{"s":"I","t":107,"c":2.1},{"s":"I","t":108,"c":1.7},
{"s":"G","t":18,"c":0.1},{"s":"G","t":22,"c":1.0},{"s":"G","t":23.8,"c":3.0},{"s":"G","t":24.3,"c":1.2},{"s":"G","t":24.8,"c":3.2},{"s":"G","t":25.5,"c":1.2},{"s":"G","t":30,"c":1.5},{"s":"G","t":33,"c":1.4},{"s":"G","t":33.5,"c":2.5},{"s":"G","t":34,"c":1.4},{"s":"G","t":44,"c":1.5},{"s":"G","t":45,"c":2.6},{"s":"G","t":46,"c":1.5},{"s":"G","t":50,"c":1.6},{"s":"G","t":50.5,"c":2.8},{"s":"G","t":52,"c":2.4},{"s":"G","t":53,"c":1.6},{"s":"G","t":57.5,"c":6.7},{"s":"G","t":58.3,"c":3.0},{"s":"G","t":59,"c":3.5},{"s":"G","t":59.7,"c":3.4},{"s":"G","t":60.5,"c":1.9},{"s":"G","t":63,"c":2.3},{"s":"G","t":64,"c":1.6},{"s":"G","t":66,"c":2.4},{"s":"G","t":67,"c":1.6},{"s":"G","t":69,"c":2.9},{"s":"G","t":70,"c":1.7},{"s":"G","t":72,"c":2.4},{"s":"G","t":73,"c":1.6},{"s":"G","t":75,"c":2.5},{"s":"G","t":76,"c":1.6},{"s":"G","t":78,"c":2.5},{"s":"G","t":80,"c":1.6},{"s":"G","t":82,"c":2.6},{"s":"G","t":84,"c":1.7},{"s":"G","t":86,"c":2.8},{"s":"G","t":88,"c":1.7},{"s":"G","t":90,"c":3.1},{"s":"G","t":92,"c":1.7},{"s":"G","t":94,"c":2.9},{"s":"G","t":96,"c":3.4},{"s":"G","t":97,"c":1.8},{"s":"G","t":97.5,"c":3.5},{"s":"G","t":98.5,"c":1.8},{"s":"G","t":101,"c":2.8},{"s":"G","t":103,"c":1.7},{"s":"G","t":105,"c":2.9},{"s":"G","t":107,"c":1.8},{"s":"G","t":108,"c":2.5},{"s":"G","t":110,"c":1.5},{"s":"G","t":120,"c":0.9},
{"s":"R","t":18,"c":0.1},{"s":"R","t":22,"c":1.0},{"s":"R","t":26.6,"c":1.2},{"s":"R","t":27,"c":5.0},{"s":"R","t":27.5,"c":1.2},{"s":"R","t":28.8,"c":1.6},{"s":"R","t":29.1,"c":4.3},{"s":"R","t":29.8,"c":1.4},{"s":"R","t":31.1,"c":1.5},{"s":"R","t":31.5,"c":5.2},{"s":"R","t":32.2,"c":1.5},{"s":"R","t":33,"c":2.8},{"s":"R","t":33.6,"c":1.5},{"s":"R","t":35,"c":1.6},{"s":"R","t":35.3,"c":5.0},{"s":"R","t":35.8,"c":1.5},{"s":"R","t":39.5,"c":1.7},{"s":"R","t":40,"c":5.2},{"s":"R","t":40.5,"c":2.5},{"s":"R","t":41,"c":3.2},{"s":"R","t":41.5,"c":1.6},{"s":"R","t":43.1,"c":1.6},{"s":"R","t":43.5,"c":3.6},{"s":"R","t":44,"c":1.6},{"s":"R","t":45,"c":3.3},{"s":"R","t":45.6,"c":1.7},{"s":"R","t":46.2,"c":3.5},{"s":"R","t":46.5,"c":2.5},{"s":"R","t":47.2,"c":4.6},{"s":"R","t":47.9,"c":2.3},{"s":"R","t":48.7,"c":3.7},{"s":"R","t":49.3,"c":1.7},{"s":"R","t":49.9,"c":1.7},{"s":"R","t":50.3,"c":5.2},{"s":"R","t":50.8,"c":1.7},{"s":"R","t":54.4,"c":1.8},{"s":"R","t":54.8,"c":4.8},{"s":"R","t":55.4,"c":1.8},{"s":"R","t":56.5,"c":4.2},{"s":"R","t":56.9,"c":2.4},{"s":"R","t":57.3,"c":4.8},{"s":"R","t":58,"c":2.0},{"s":"R","t":58.5,"c":3.0},{"s":"R","t":59.3,"c":1.8},{"s":"R","t":63.1,"c":1.8},{"s":"R","t":63.5,"c":8.4},{"s":"R","t":63.9,"c":1.8},{"s":"R","t":66,"c":1.8},{"s":"R","t":66.4,"c":5.0},{"s":"R","t":66.8,"c":1.8},{"s":"R","t":69.2,"c":1.9},{"s":"R","t":69.7,"c":7.4},{"s":"R","t":70.3,"c":6.0},{"s":"R","t":70.9,"c":1.9},{"s":"R","t":72,"c":1.9},{"s":"R","t":72.3,"c":4.4},{"s":"R","t":72.8,"c":1.8},{"s":"R","t":73.8,"c":1.9},{"s":"R","t":74.2,"c":3.6},{"s":"R","t":74.6,"c":2.0},{"s":"R","t":75,"c":3.4},{"s":"R","t":75.6,"c":2.0},{"s":"R","t":76,"c":2.9},{"s":"R","t":76.5,"c":2.0},{"s":"R","t":77,"c":3.1},{"s":"R","t":77.5,"c":2.0},{"s":"R","t":78,"c":3.9},{"s":"R","t":78.6,"c":3.6},{"s":"R","t":79.2,"c":1.9},{"s":"R","t":80.6,"c":1.8},{"s":"R","t":81,"c":4.8},{"s":"R","t":81.5,"c":1.9},{"s":"R","t":82.2,"c":2.0},{"s":"R","t":82.6,"c":4.7},{"s":"R","t":83.2,"c":3.0},{"s":"R","t":83.7,"c":1.9},{"s":"R","t":85.8,"c":1.9},{"s":"R","t":86.2,"c":5.2},{"s":"R","t":86.8,"c":1.9},{"s":"R","t":87.4,"c":2.0},{"s":"R","t":87.7,"c":5.1},{"s":"R","t":88.1,"c":2.2},{"s":"R","t":88.5,"c":5.2},{"s":"R","t":89,"c":2.2},{"s":"R","t":89.6,"c":6.4},{"s":"R","t":90.3,"c":2.0},{"s":"R","t":93.5,"c":2.0},{"s":"R","t":93.8,"c":5.9},{"s":"R","t":94.3,"c":3.0},{"s":"R","t":95,"c":5.7},{"s":"R","t":95.5,"c":1.9},{"s":"R","t":98.7,"c":1.9},{"s":"R","t":99.1,"c":4.8},{"s":"R","t":99.6,"c":4.2},{"s":"R","t":100.1,"c":1.8},{"s":"R","t":103.1,"c":1.8},{"s":"R","t":103.5,"c":4.8},{"s":"R","t":104.1,"c":1.9},{"s":"R","t":105,"c":3.1},{"s":"R","t":105.5,"c":1.8},{"s":"R","t":106.6,"c":1.8},{"s":"R","t":107,"c":7.4},{"s":"R","t":107.6,"c":2.0},{"s":"R","t":108.2,"c":5.2},{"s":"R","t":108.8,"c":2.0},{"s":"R","t":110,"c":1.5},{"s":"R","t":120,"c":0.9},
{"s":"Y","t":0,"c":0},{"s":"Y","t":17.4,"c":0.1},{"s":"Y","t":17.7,"c":5.6},{"s":"Y","t":18.1,"c":0.3},{"s":"Y","t":18.8,"c":0.5},{"s":"Y","t":19,"c":10.7},{"s":"Y","t":19.3,"c":1.0},{"s":"Y","t":19.6,"c":5.3},{"s":"Y","t":20.3,"c":0.6},{"s":"Y","t":22.3,"c":1.0},{"s":"Y","t":22.7,"c":5.9},{"s":"Y","t":23,"c":6.6},{"s":"Y","t":23.6,"c":1.0},{"s":"Y","t":27.4,"c":1.1},{"s":"Y","t":27.7,"c":12.6},{"s":"Y","t":28,"c":1.2},{"s":"Y","t":30.2,"c":1.1},{"s":"Y","t":30.5,"c":6.5},{"s":"Y","t":31,"c":5.7},{"s":"Y","t":31.6,"c":1.2},{"s":"Y","t":34.3,"c":1.2},{"s":"Y","t":34.6,"c":12.6},{"s":"Y","t":35,"c":1.3},{"s":"Y","t":36,"c":1.3},{"s":"Y","t":36.2,"c":10.4},{"s":"Y","t":36.5,"c":2.0},{"s":"Y","t":36.8,"c":7.8},{"s":"Y","t":37.2,"c":1.5},{"s":"Y","t":37.5,"c":5.2},{"s":"Y","t":37.8,"c":2.0},{"s":"Y","t":38,"c":17.3},{"s":"Y","t":38.3,"c":2.0},{"s":"Y","t":38.7,"c":5.2},{"s":"Y","t":39,"c":2.0},{"s":"Y","t":39.4,"c":5.1},{"s":"Y","t":40.2,"c":1.3},{"s":"Y","t":41,"c":3.8},{"s":"Y","t":41.6,"c":1.3},{"s":"Y","t":43.5,"c":4.2},{"s":"Y","t":44,"c":1.3},{"s":"Y","t":45.2,"c":3.6},{"s":"Y","t":45.8,"c":1.4},{"s":"Y","t":48.7,"c":1.4},{"s":"Y","t":49,"c":22.8},{"s":"Y","t":49.3,"c":1.4},{"s":"Y","t":53.1,"c":1.4},{"s":"Y","t":53.5,"c":6.6},{"s":"Y","t":53.9,"c":1.5},{"s":"Y","t":55.2,"c":1.5},{"s":"Y","t":55.5,"c":16.9},{"s":"Y","t":55.8,"c":14.3},{"s":"Y","t":56.2,"c":1.5},{"s":"Y","t":80,"c":1.6},{"s":"Y","t":80.5,"c":4.4},{"s":"Y","t":81.5,"c":1.6},{"s":"Y","t":83.6,"c":1.6},{"s":"Y","t":84,"c":5.9},{"s":"Y","t":84.4,"c":1.6},{"s":"Y","t":84.6,"c":1.7},{"s":"Y","t":84.9,"c":12.1},{"s":"Y","t":85.2,"c":1.7},{"s":"Y","t":85.8,"c":1.7},{"s":"Y","t":86.2,"c":5.3},{"s":"Y","t":86.8,"c":1.6},{"s":"Y","t":88.2,"c":1.7},{"s":"Y","t":88.6,"c":5.5},{"s":"Y","t":89,"c":1.7},{"s":"Y","t":98.2,"c":1.6},{"s":"Y","t":98.6,"c":4.6},{"s":"Y","t":99,"c":1.6},{"s":"Y","t":101.2,"c":1.7},{"s":"Y","t":101.5,"c":4.6},{"s":"Y","t":102.2,"c":4.7},{"s":"Y","t":102.8,"c":1.7},{"s":"Y","t":105.2,"c":1.7},{"s":"Y","t":105.5,"c":14.8},{"s":"Y","t":105.8,"c":2.0},{"s":"Y","t":106.2,"c":6.0},{"s":"Y","t":106.7,"c":1.7},{"s":"Y","t":108.5,"c":1.7},{"s":"Y","t":109,"c":4.0},{"s":"Y","t":109.5,"c":1.7},{"s":"Y","t":110,"c":1.5},{"s":"Y","t":120,"c":1.0},
{"s":"E","t":18,"c":0.05},{"s":"E","t":19.5,"c":0.5},{"s":"E","t":20.3,"c":2.2},{"s":"E","t":20.9,"c":0.6},{"s":"E","t":21.5,"c":1.0},{"s":"E","t":22,"c":0.8},{"s":"E","t":23,"c":0.9},{"s":"E","t":25,"c":1.5},{"s":"E","t":26,"c":1.0},{"s":"E","t":28,"c":1.05},{"s":"E","t":28.5,"c":1.45},{"s":"E","t":29,"c":1.1},{"s":"E","t":36,"c":1.2},{"s":"E","t":45,"c":1.5},{"s":"E","t":48,"c":1.55},{"s":"E","t":49,"c":1.3},{"s":"E","t":62,"c":1.6},{"s":"E","t":69,"c":1.6},{"s":"E","t":70,"c":2.3},{"s":"E","t":71,"c":1.6},{"s":"E","t":73,"c":1.6},{"s":"E","t":73.8,"c":2.2},{"s":"E","t":74.6,"c":1.6},{"s":"E","t":80,"c":1.6},{"s":"E","t":81.5,"c":1.9},{"s":"E","t":82,"c":1.6},{"s":"E","t":84,"c":1.6},{"s":"E","t":84.8,"c":2.2},{"s":"E","t":85.5,"c":1.6},{"s":"E","t":88,"c":1.6},{"s":"E","t":89.2,"c":2.4},{"s":"E","t":90.2,"c":1.6},{"s":"E","t":93,"c":1.6},{"s":"E","t":94,"c":2.3},{"s":"E","t":95,"c":1.6},{"s":"E","t":97,"c":1.6},{"s":"E","t":98,"c":2.5},{"s":"E","t":99,"c":1.6},{"s":"E","t":101,"c":1.6},{"s":"E","t":102,"c":2.4},{"s":"E","t":103,"c":1.6},{"s":"E","t":105,"c":1.6},{"s":"E","t":105.5,"c":2.1},{"s":"E","t":106,"c":1.6},{"s":"E","t":107.5,"c":1.6},{"s":"E","t":108.5,"c":5.0},{"s":"E","t":109.5,"c":3.5},{"s":"E","t":110,"c":2.9},{"s":"E","t":112,"c":2.2},{"s":"E","t":114,"c":1.7},{"s":"E","t":116,"c":1.4},{"s":"E","t":118,"c":1.3},{"s":"E","t":120,"c":1.2},
{"s":"H","t":0,"c":0},{"s":"H","t":107,"c":0.35},{"s":"H","t":108.5,"c":0.8},{"s":"H","t":109.5,"c":2.0},{"s":"H","t":110.5,"c":2.5},{"s":"H","t":113,"c":2.4},{"s":"H","t":120,"c":2.1},
{"s":"A","t":18,"c":0},{"s":"A","t":24,"c":0.4},{"s":"A","t":30,"c":0.6},{"s":"A","t":40,"c":0.75},{"s":"A","t":60,"c":0.75},{"s":"A","t":68,"c":0.85},{"s":"A","t":84,"c":0.82},{"s":"A","t":100,"c":0.8},{"s":"A","t":108,"c":0.78},{"s":"A","t":110,"c":1.1},{"s":"A","t":120,"c":0.55},
{"s":"M","t":18,"c":0},{"s":"M","t":24,"c":0.35},{"s":"M","t":40,"c":0.55},{"s":"M","t":108,"c":0.62},{"s":"M","t":110,"c":1.0},{"s":"M","t":120,"c":0.5},
{"s":"T","t":18,"c":0},{"s":"T","t":24,"c":0.3},{"s":"T","t":40,"c":0.4},{"s":"T","t":108,"c":0.46},{"s":"T","t":110,"c":0.9},{"s":"T","t":120,"c":0.4},
{"s":"D","t":0,"c":0},{"s":"D","t":18,"c":0},{"s":"D","t":25,"c":0.18},{"s":"D","t":40,"c":0.25},{"s":"D","t":60,"c":0.28},{"s":"D","t":80,"c":0.28},{"s":"D","t":100,"c":0.28},{"s":"D","t":108,"c":0.3},{"s":"D","t":109,"c":0.6},{"s":"D","t":110,"c":0.4},{"s":"D","t":112,"c":0.2},{"s":"D","t":113,"c":0},{"s":"D","t":117,"c":0.1},{"s":"D","t":118,"c":0.05},{"s":"D","t":120,"c":-0.15},
{"s":"V","t":0,"c":-0.05},{"s":"V","t":18,"c":-0.03},{"s":"V","t":25,"c":0.05},{"s":"V","t":40,"c":0.1},{"s":"V","t":60,"c":0.12},{"s":"V","t":80,"c":0.12},{"s":"V","t":100,"c":0.12},{"s":"V","t":109,"c":0.15},{"s":"V","t":110,"c":0.45},{"s":"V","t":112,"c":0.35},{"s":"V","t":120,"c":0.2},
{"s":"B1","t":0,"c":-0.15},{"s":"B1","t":2,"c":-0.2},{"s":"B1","t":4,"c":-0.1},{"s":"B1","t":6,"c":-0.25},{"s":"B1","t":8,"c":-0.15},{"s":"B1","t":10,"c":-0.2},{"s":"B1","t":12,"c":-0.22},{"s":"B1","t":14,"c":-0.5},{"s":"B1","t":14.5,"c":-0.1},{"s":"B1","t":16,"c":-0.05},{"s":"B1","t":17.5,"c":0},{"s":"B1","t":18,"c":2.1},{"s":"B1","t":18.5,"c":0.2},{"s":"B1","t":20,"c":0.05},{"s":"B1","t":22,"c":0.3},{"s":"B1","t":26,"c":0.4},{"s":"B1","t":30,"c":0.58},{"s":"B1","t":40,"c":0.72},{"s":"B1","t":50,"c":0.82},{"s":"B1","t":60,"c":0.87},{"s":"B1","t":70,"c":0.92},{"s":"B1","t":85,"c":0.9},{"s":"B1","t":100,"c":0.92},{"s":"B1","t":109,"c":0.9},{"s":"B1","t":110,"c":1.0},{"s":"B1","t":115,"c":0.75},{"s":"B1","t":120,"c":0.65},
{"s":"B4","t":22,"c":0.38},{"s":"B4","t":30,"c":0.7},{"s":"B4","t":40,"c":0.81},{"s":"B4","t":50,"c":0.91},{"s":"B4","t":60,"c":0.97},{"s":"B4","t":70,"c":1.02},{"s":"B4","t":100,"c":1.02},{"s":"B4","t":109,"c":1.01},{"s":"B4","t":110,"c":1.12},{"s":"B4","t":115,"c":0.85},{"s":"B4","t":120,"c":0.75},
{"s":"B2","t":0,"c":0.2},{"s":"B2","t":3,"c":0.22},{"s":"B2","t":6,"c":0.28},{"s":"B2","t":8,"c":0.18},{"s":"B2","t":9.5,"c":0.45},{"s":"B2","t":10.5,"c":0.15},{"s":"B2","t":11.5,"c":0.45},{"s":"B2","t":12.5,"c":0.2},{"s":"B2","t":16,"c":0.15},{"s":"B2","t":18,"c":0.05},{"s":"B2","t":22,"c":0.45},{"s":"B2","t":30,"c":0.8},{"s":"B2","t":40,"c":0.9},{"s":"B2","t":50,"c":1.0},{"s":"B2","t":60,"c":1.08},{"s":"B2","t":70,"c":1.12},{"s":"B2","t":85,"c":1.1},{"s":"B2","t":100,"c":1.12},{"s":"B2","t":109,"c":1.12},{"s":"B2","t":110,"c":1.25},{"s":"B2","t":115,"c":0.95},{"s":"B2","t":120,"c":0.85},
{"s":"B5","t":22,"c":0.48},{"s":"B5","t":30,"c":0.87},{"s":"B5","t":40,"c":0.98},{"s":"B5","t":50,"c":1.09},{"s":"B5","t":60,"c":1.18},{"s":"B5","t":70,"c":1.22},{"s":"B5","t":100,"c":1.22},{"s":"B5","t":109,"c":1.21},{"s":"B5","t":110,"c":1.32},{"s":"B5","t":115,"c":1.02},{"s":"B5","t":120,"c":0.92},
{"s":"B3","t":18,"c":0.05},{"s":"B3","t":22,"c":0.5},{"s":"B3","t":30,"c":0.95},{"s":"B3","t":40,"c":1.05},{"s":"B3","t":50,"c":1.18},{"s":"B3","t":60,"c":1.28},{"s":"B3","t":70,"c":1.32},{"s":"B3","t":85,"c":1.3},{"s":"B3","t":100,"c":1.32},{"s":"B3","t":109,"c":1.3},{"s":"B3","t":110,"c":1.4},{"s":"B3","t":115,"c":1.1},{"s":"B3","t":120,"c":1.0},
{"s":"P2","t":20,"c":0.2},{"s":"P2","t":22,"c":0.45},{"s":"P2","t":26,"c":0.68},{"s":"P2","t":30,"c":0.87},{"s":"P2","t":36,"c":0.86},{"s":"P2","t":40,"c":1.03},{"s":"P2","t":50,"c":1.12},{"s":"P2","t":58,"c":1.38},{"s":"P2","t":70,"c":1.4},{"s":"P2","t":100,"c":1.43},{"s":"P2","t":109,"c":1.43},{"s":"P2","t":110,"c":1.33},{"s":"P2","t":120,"c":1.1},
{"s":"P","t":0,"c":0.05},{"s":"P","t":17.5,"c":0.02},{"s":"P","t":19,"c":1.2},{"s":"P","t":20,"c":0.3},{"s":"P","t":22,"c":0.55},{"s":"P","t":26,"c":0.8},{"s":"P","t":30,"c":1.0},{"s":"P","t":36,"c":0.98},{"s":"P","t":40,"c":1.15},{"s":"P","t":50,"c":1.25},{"s":"P","t":58,"c":1.5},{"s":"P","t":70,"c":1.5},{"s":"P","t":100,"c":1.55},{"s":"P","t":109,"c":1.55},{"s":"P","t":110,"c":1.45},{"s":"P","t":120,"c":1.2}
]},"encoding":{"x":{"field":"t","type":"quantitative","axis":null,"scale":{"domain":[-3.06,122.6],"range":[1101,2659],"nice":false,"zero":false}},"y":{"field":"c","type":"quantitative","axis":null,"scale":{"domain":[-0.746,23.59],"range":[1182,105],"nice":false,"zero":false}},"color":{"field":"s","type":"nominal","legend":null,"scale":{"domain":["C","O","N","I","G","R","Y","E","H","A","M","T","D","V","B1","B4","B2","B5","B3","P2","P"],"range":["#17becf","#ff7f0e","#b5522e","#8f9a78","#7f7f7f","#ee1c25","#bcbd22","#00a650","#d62728","#d9a02c","#c0603c","#3d9aa0","#c2304e","#a05cb0","#0f7bc0","#0f7bc0","#0f7bc0","#0f7bc0","#0f7bc0","#ee6fc0","#ee6fc0"]}}}},
{"mark":{"type":"text","font":"Liberation Serif","fontWeight":"bold","fontSize":76,"color":"#111"},"data":{"values":[{"x":-14.8,"y":24.1,"t":"(b)"}]},"encoding":{"x":{"field":"x","type":"quantitative","axis":null},"y":{"field":"y","type":"quantitative","axis":null},"text":{"field":"t"}}}
]},
{"mark":{"type":"rect","filled":false,"stroke":"#222","strokeWidth":3},"data":{"values":[{"a":-3.06,"b":122.6,"c":-0.746,"d":23.59}]},"encoding":{"x":{"field":"a","type":"quantitative","scale":{"domain":[-3.06,122.6],"range":[1101,2659],"nice":false,"zero":false},"axis":{"orient":"bottom","offset":-150,"values":[0,20,40,60,80,100,120],"tickSize":15,"labelFontSize":40,"labelPadding":6,"title":"Time (min)","titleFontSize":41,"titlePadding":21}},"x2":{"field":"b"},"y":{"field":"c","type":"quantitative","scale":{"domain":[-0.746,23.59],"range":[1182,105],"nice":false,"zero":false},"axis":{"orient":"left","offset":-1101,"values":[0,5,10,15,20],"tickSize":15,"labelFontSize":40,"labelPadding":6,"title":"Concentration (ppm)","titleFontSize":40,"titlePadding":30}},"y2":{"field":"d"}}},
{"layer":[
{"mark":{"type":"rect"},"data":{"values":[{"a":6,"b":0,"c":0,"d":6,"v":0}]},"encoding":{"x":{"field":"a","type":"quantitative","axis":null,"scale":{"domain":[6,0],"range":[2990,3270],"nice":false,"zero":false}},"x2":{"field":"b"},"y":{"field":"c","type":"quantitative","axis":null,"scale":{"domain":[0,6],"range":[174,473],"nice":false,"zero":false}},"y2":{"field":"d"},"color":{"field":"v","type":"quantitative","legend":null,"scale":{"domain":[0,0.25],"range":["#ffffcc","#800026"]}}}},
{"mark":{"type":"text","font":"DejaVu Sans","fontSize":44,"angle":270,"color":"#222"},"data":{"values":[{"x":9.64,"y":3,"t":"Z = 0.45 m"}]},"encoding":{"x":{"field":"x","type":"quantitative","axis":null},"y":{"field":"y","type":"quantitative","axis":null},"text":{"field":"t"}}},
{"mark":{"type":"text","font":"Liberation Serif","fontWeight":"bold","fontSize":76,"color":"#111"},"data":{"values":[{"x":9.19,"y":-1.93,"t":"(c)"}]},"encoding":{"x":{"field":"x","type":"quantitative","axis":null},"y":{"field":"y","type":"quantitative","axis":null},"text":{"field":"t"}}}
]},
{"mark":{"type":"rect","filled":false,"stroke":"#222","strokeWidth":3},"data":{"values":[{"a":6,"b":0,"c":0,"d":6}]},"encoding":{"x":{"field":"a","type":"quantitative","scale":{"domain":[6,0],"range":[2990,3270],"nice":false,"zero":false},"axis":{"orient":"top","offset":-174,"values":[6,4,2,0],"tickSize":14,"labelFontSize":32,"labelPadding":18,"labelAngle":0,"title":"X (m)","titleFontSize":36,"titlePadding":17}},"x2":{"field":"b"},"y":{"field":"c","type":"quantitative","scale":{"domain":[0,6],"range":[174,473],"nice":false,"zero":false},"axis":{"orient":"left","offset":-2990,"values":[0,2,4,6],"tickSize":15,"labelFontSize":32,"labelPadding":6,"title":"Y (m)","titleFontSize":35,"titlePadding":25}},"y2":{"field":"d"}}},
{"layer":[
{"mark":{"type":"rect"},"data":{"values":[{"a":6,"b":0,"c":0,"d":6,"v":0}]},"encoding":{"x":{"field":"a","type":"quantitative","axis":null,"scale":{"domain":[6,0],"range":[2990,3270],"nice":false,"zero":false}},"x2":{"field":"b"},"y":{"field":"c","type":"quantitative","axis":null,"scale":{"domain":[0,6],"range":[533,828],"nice":false,"zero":false}},"y2":{"field":"d"},"color":{"field":"v","type":"quantitative","legend":null,"scale":{"domain":[0,0.03125,0.0625,0.09375,0.125,0.15625,0.1875,0.21875,0.25],"range":["#ffffcc","#ffeda0","#fed976","#feb24c","#fd8d3c","#fc4e2a","#e31a1c","#bd0026","#800026"]}}}},
{"mark":{"type":"rect","width":19.5,"height":20.5},"data":{"values":[
{"x":3.2,"y":0.2,"v":0.25},{"x":2.8,"y":0.2,"v":0.25},{"x":3.2,"y":0.6,"v":0.25},{"x":2.8,"y":0.6,"v":0.25},{"x":3.2,"y":1.0,"v":0.235},{"x":2.8,"y":1.0,"v":0.235},{"x":3.2,"y":1.4,"v":0.18},{"x":2.8,"y":1.4,"v":0.18},{"x":3.2,"y":1.8,"v":0.11},{"x":2.8,"y":1.8,"v":0.11},{"x":3.2,"y":2.2,"v":0.04},{"x":2.8,"y":2.2,"v":0.04},
{"x":3.6,"y":0.2,"v":0.245},{"x":2.4,"y":0.2,"v":0.245},{"x":3.6,"y":0.6,"v":0.235},{"x":2.4,"y":0.6,"v":0.235},{"x":3.6,"y":1.0,"v":0.195},{"x":2.4,"y":1.0,"v":0.195},{"x":3.6,"y":1.4,"v":0.145},{"x":2.4,"y":1.4,"v":0.145},{"x":3.6,"y":1.8,"v":0.075},{"x":2.4,"y":1.8,"v":0.075},{"x":3.6,"y":2.2,"v":0.018},{"x":2.4,"y":2.2,"v":0.018},
{"x":4.0,"y":0.2,"v":0.18},{"x":2.0,"y":0.2,"v":0.18},{"x":4.0,"y":0.6,"v":0.16},{"x":2.0,"y":0.6,"v":0.16},{"x":4.0,"y":1.0,"v":0.12},{"x":2.0,"y":1.0,"v":0.12},{"x":4.0,"y":1.4,"v":0.075},{"x":2.0,"y":1.4,"v":0.075},{"x":4.0,"y":1.8,"v":0.025},{"x":2.0,"y":1.8,"v":0.025},
{"x":4.4,"y":0.2,"v":0.07},{"x":1.6,"y":0.2,"v":0.07},{"x":4.4,"y":0.6,"v":0.055},{"x":1.6,"y":0.6,"v":0.055},{"x":4.4,"y":1.0,"v":0.03},{"x":1.6,"y":1.0,"v":0.03},{"x":4.4,"y":1.4,"v":0.01},{"x":1.6,"y":1.4,"v":0.01}
]},"encoding":{"x":{"field":"x","type":"quantitative","axis":null},"y":{"field":"y","type":"quantitative","axis":null},"color":{"field":"v","type":"quantitative","legend":null}}},
{"mark":{"type":"text","font":"DejaVu Sans","fontSize":44,"angle":270,"color":"#222"},"data":{"values":[{"x":9.64,"y":3,"t":"Z = 1.33 m"}]},"encoding":{"x":{"field":"x","type":"quantitative","axis":null},"y":{"field":"y","type":"quantitative","axis":null},"text":{"field":"t"}}}
]},
{"mark":{"type":"rect","filled":false,"stroke":"#222","strokeWidth":3},"data":{"values":[{"a":6,"b":0,"c":0,"d":6}]},"encoding":{"x":{"field":"a","type":"quantitative","scale":{"domain":[6,0],"range":[2990,3270],"nice":false,"zero":false},"axis":{"orient":"top","offset":-533,"values":[6,4,2,0],"tickSize":14,"labels":false,"title":null}},"x2":{"field":"b"},"y":{"field":"c","type":"quantitative","scale":{"domain":[0,6],"range":[533,828],"nice":false,"zero":false},"axis":{"orient":"left","offset":-2990,"values":[0,2,4,6],"tickSize":15,"labelFontSize":32,"labelPadding":6,"title":"Y (m)","titleFontSize":35,"titlePadding":25}},"y2":{"field":"d"}}},
{"mark":{"type":"point","filled":true,"color":"#00b050","opacity":1,"size":2350},"data":{"values":[{"x":3,"y":0.23}]},"encoding":{"x":{"field":"x","type":"quantitative","axis":null,"scale":{"domain":[6,0],"range":[2990,3270],"nice":false,"zero":false}},"y":{"field":"y","type":"quantitative","axis":null,"scale":{"domain":[0,6],"range":[533,828],"nice":false,"zero":false}}}},
{"layer":[
{"mark":{"type":"rect"},"data":{"values":[{"a":6,"b":0,"c":0,"d":6,"v":0}]},"encoding":{"x":{"field":"a","type":"quantitative","axis":null,"scale":{"domain":[6,0],"range":[2990,3270],"nice":false,"zero":false}},"x2":{"field":"b"},"y":{"field":"c","type":"quantitative","axis":null,"scale":{"domain":[0,6],"range":[889,1187],"nice":false,"zero":false}},"y2":{"field":"d"},"color":{"field":"v","type":"quantitative","legend":null,"scale":{"domain":[0,0.25],"range":["#ffffcc","#800026"]}}}},
{"mark":{"type":"text","font":"DejaVu Sans","fontSize":44,"angle":270,"color":"#222"},"data":{"values":[{"x":9.64,"y":3,"t":"Z = 2.24 m"}]},"encoding":{"x":{"field":"x","type":"quantitative","axis":null},"y":{"field":"y","type":"quantitative","axis":null},"text":{"field":"t"}}}
]},
{"mark":{"type":"rect","filled":false,"stroke":"#222","strokeWidth":3},"data":{"values":[{"a":6,"b":0,"c":0,"d":6}]},"encoding":{"x":{"field":"a","type":"quantitative","scale":{"domain":[6,0],"range":[2990,3270],"nice":false,"zero":false},"axis":{"orient":"top","offset":-889,"values":[6,4,2,0],"tickSize":14,"labels":false,"title":null}},"x2":{"field":"b"},"y":{"field":"c","type":"quantitative","scale":{"domain":[0,6],"range":[889,1187],"nice":false,"zero":false},"axis":{"orient":"left","offset":-2990,"values":[0,2,4,6],"tickSize":15,"labelFontSize":32,"labelPadding":6,"title":"Y (m)","titleFontSize":35,"titlePadding":25}},"y2":{"field":"d"}}},
{"mark":{"type":"rect","stroke":"#333","strokeWidth":3,"color":{"gradient":"linear","x1":0,"y1":1,"x2":0,"y2":0,"stops":[{"offset":0,"color":"#ffffcc"},{"offset":0.125,"color":"#ffeda0"},{"offset":0.25,"color":"#fed976"},{"offset":0.375,"color":"#feb24c"},{"offset":0.5,"color":"#fd8d3c"},{"offset":0.625,"color":"#fc4e2a"},{"offset":0.75,"color":"#e31a1c"},{"offset":0.875,"color":"#bd0026"},{"offset":1,"color":"#800026"}]}},"data":{"values":[{"a":0,"b":1,"lo":0,"hi":0.25}]},"encoding":{"x":{"field":"a","type":"quantitative","axis":null,"scale":{"domain":[0,1],"range":[3345,3381],"nice":false,"zero":false}},"x2":{"field":"b"},"y":{"field":"lo","type":"quantitative","scale":{"domain":[0,0.25],"range":[1200,148],"nice":false,"zero":false},"axis":{"orient":"right","offset":-193,"values":[0,0.05,0.1,0.15,0.2,0.25],"format":".2f","tickSize":14,"labelFontSize":38,"labelPadding":16,"title":"bouts/minute","titleFontSize":36,"titleAngle":270,"titlePadding":55}},"y2":{"field":"hi"}}}
]}
